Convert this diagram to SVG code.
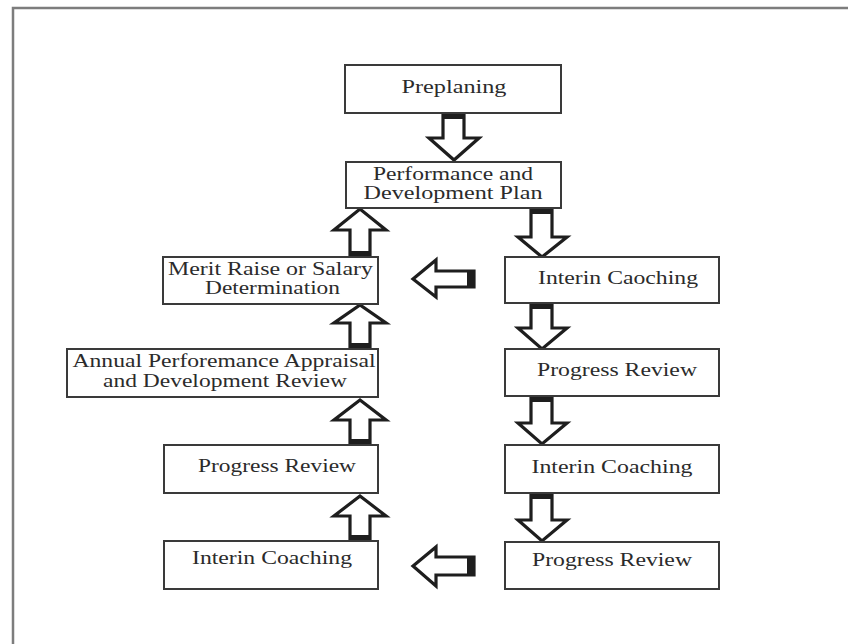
<svg xmlns="http://www.w3.org/2000/svg" width="848" height="644" viewBox="0 0 848 644">
  <style>
    .frame { fill: none; stroke: #7d7d7d; stroke-width: 2.5; }
    .box { fill: #ffffff; stroke: #3a3a3a; stroke-width: 2; }
    .lbl { font-family: "Liberation Serif", "Times New Roman", serif; font-size: 19px; fill: #2b2b2b; text-anchor: middle; }
    .arrow { fill: #ffffff; stroke: #1e1e1e; stroke-width: 3.2; stroke-linejoin: miter; }
    .tail { fill: #1e1e1e; }
  </style>
  <rect width="848" height="644" fill="#ffffff"/>
  <!-- outer frame (open on right and bottom) -->
  <path class="frame" d="M13 644 V8 H848"/>

  <g id="connectors">
    <!-- Preplaning -> Performance and Development Plan -->
    <polygon class="arrow" points="443,113 464,113 464,138 479,138 454,160 429,138 443,138"/>
    <rect class="tail" x="443" y="113" width="21" height="6"/>
    <!-- Plan -> Interin Caoching -->
    <polygon class="arrow" points="531,208 552,208 552,237 567,237 542,257 518,237 531,237"/>
    <rect class="tail" x="531" y="208" width="21" height="6"/>
    <!-- Interin Caoching -> Progress Review -->
    <polygon class="arrow" points="531,303 552,303 552,328 567,328 542,349 518,328 531,328"/>
    <rect class="tail" x="531" y="303" width="21" height="6"/>
    <!-- Progress Review -> Interin Coaching -->
    <polygon class="arrow" points="531,396 552,396 552,423 567,423 542,444 518,423 531,423"/>
    <rect class="tail" x="531" y="396" width="21" height="6"/>
    <!-- Interin Coaching -> Progress Review -->
    <polygon class="arrow" points="531,493 552,493 552,520 567,520 542,541 518,520 531,520"/>
    <rect class="tail" x="531" y="493" width="21" height="6"/>

    <!-- Progress Review (right) -> Interin Coaching (left) -->
    <polygon class="arrow" points="474,557 474,575 436,575 436,586 413,566 436,547 436,557"/>
    <rect class="tail" x="467" y="557" width="7" height="18"/>
    <!-- Interin Caoching -> Merit Raise -->
    <polygon class="arrow" points="474,271 474,287 436,287 436,297 413,279 436,260 436,271"/>
    <rect class="tail" x="467" y="271" width="7" height="16"/>

    <!-- Interin Coaching (left) -> Progress Review (left) -->
    <polygon class="arrow" points="350,541 370,541 370,516 386,516 360,496 334,516 350,516"/>
    <rect class="tail" x="350" y="535" width="20" height="6"/>
    <!-- Progress Review (left) -> Annual Appraisal -->
    <polygon class="arrow" points="350,445 370,445 370,420 386,420 360,400 334,420 350,420"/>
    <rect class="tail" x="350" y="439" width="20" height="6"/>
    <!-- Annual Appraisal -> Merit Raise -->
    <polygon class="arrow" points="350,349 370,349 370,323 386,323 360,305 334,323 350,323"/>
    <rect class="tail" x="350" y="343" width="20" height="6"/>
    <!-- Merit Raise -> Plan -->
    <polygon class="arrow" points="350,257 370,257 370,230 386,230 360,209 334,230 350,230"/>
    <rect class="tail" x="350" y="251" width="20" height="6"/>
  </g>

  <g id="preplaning">
    <rect class="box" x="345" y="65" width="216" height="48"/>
    <text class="lbl" x="454" y="93" textLength="105" lengthAdjust="spacingAndGlyphs">Preplaning</text>
  </g>
  <g id="plan">
    <rect class="box" x="346" y="162" width="215" height="46"/>
    <text class="lbl" x="453" y="180" textLength="160" lengthAdjust="spacingAndGlyphs">Performance and</text>
    <text class="lbl" x="453" y="199" textLength="179" lengthAdjust="spacingAndGlyphs">Development Plan</text>
  </g>
  <g id="merit">
    <rect class="box" x="163" y="257" width="215" height="47"/>
    <text class="lbl" x="270.5" y="275" textLength="205" lengthAdjust="spacingAndGlyphs">Merit Raise or Salary</text>
    <text class="lbl" x="272.5" y="294" textLength="135" lengthAdjust="spacingAndGlyphs">Determination</text>
  </g>
  <g id="annual">
    <rect class="box" x="67" y="349" width="311" height="48"/>
    <text class="lbl" x="224" y="367" textLength="303" lengthAdjust="spacingAndGlyphs">Annual Perforemance Appraisal</text>
    <text class="lbl" x="225" y="387" textLength="244" lengthAdjust="spacingAndGlyphs">and Development Review</text>
  </g>
  <g id="progress-left">
    <rect class="box" x="164" y="445" width="214" height="48"/>
    <text class="lbl" x="277" y="472" textLength="158" lengthAdjust="spacingAndGlyphs">Progress Review</text>
  </g>
  <g id="coaching-left">
    <rect class="box" x="164" y="541" width="214" height="48"/>
    <text class="lbl" x="272" y="564" textLength="160" lengthAdjust="spacingAndGlyphs">Interin Coaching</text>
  </g>
  <g id="coaching-right-1">
    <rect class="box" x="505" y="257" width="214" height="46"/>
    <text class="lbl" x="618" y="284" textLength="160" lengthAdjust="spacingAndGlyphs">Interin Caoching</text>
  </g>
  <g id="progress-right-1">
    <rect class="box" x="505" y="349" width="214" height="47"/>
    <text class="lbl" x="617" y="376" textLength="160" lengthAdjust="spacingAndGlyphs">Progress Review</text>
  </g>
  <g id="coaching-right-2">
    <rect class="box" x="505" y="445" width="214" height="48"/>
    <text class="lbl" x="612" y="473" textLength="161" lengthAdjust="spacingAndGlyphs">Interin Coaching</text>
  </g>
  <g id="progress-right-2">
    <rect class="box" x="505" y="542" width="214" height="47"/>
    <text class="lbl" x="612" y="566" textLength="160" lengthAdjust="spacingAndGlyphs">Progress Review</text>
  </g>
</svg>
